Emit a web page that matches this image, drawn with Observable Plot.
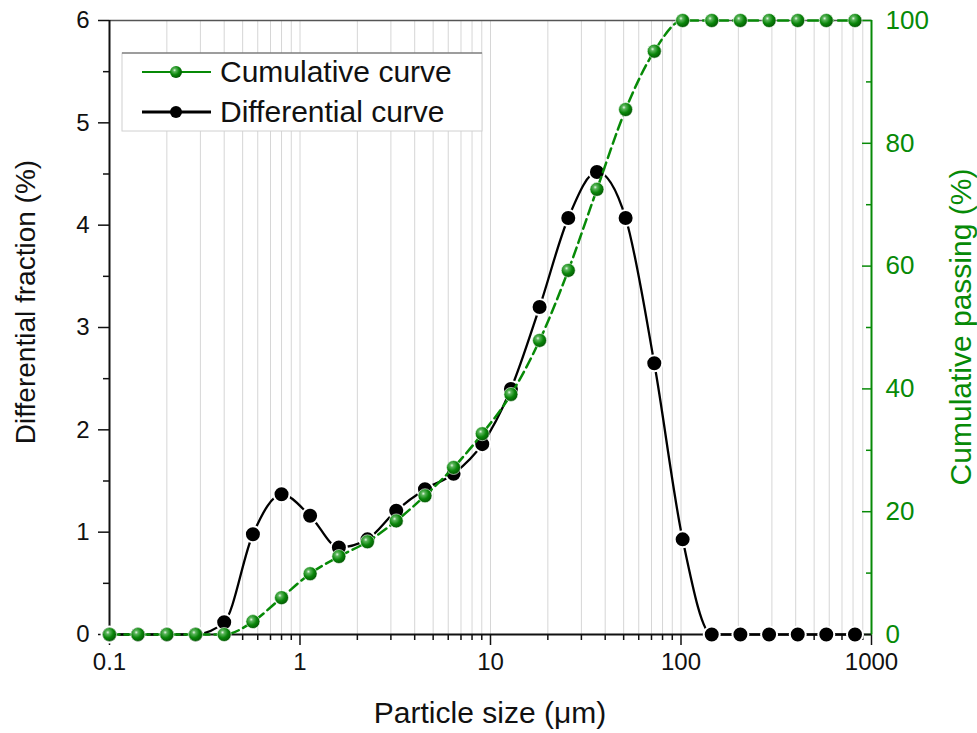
<!DOCTYPE html>
<html><head><meta charset="utf-8">
<script src="https://cdn.jsdelivr.net/npm/d3@7"></script>
<script src="https://cdn.jsdelivr.net/npm/@observablehq/plot@0.6"></script>
<style>
body{margin:0;background:#fff}
#chart{position:relative;width:977px;height:733px}
</style>
</head><body><div id="chart"></div>
<script>
// Particle sizes (µm)
const sizes = [0.1,0.141,0.2,0.283,0.4,0.566,0.8,1.13,1.6,2.26,3.2,4.53,6.4,9.05,12.8,18.1,25.6,36.2,51.2,72.4,102,145,205,290,410,579,819];
// Differential fraction (%)
const differential = [0,0,0,0,0.12,0.98,1.37,1.16,0.85,0.93,1.21,1.42,1.57,1.86,2.40,3.20,4.07,4.52,4.07,2.65,0.93,0,0,0,0,0,0];
// Cumulative passing (%)
const cumulative = [0,0,0,0,0,2.1,6.0,9.9,12.7,15.1,18.5,22.6,27.2,32.7,39.1,47.9,59.3,72.5,85.5,95.0,100,100,100,100,100,100,100];

const xMajor = [0.1,1,10,100,1000];
const xMinor = [0.2,0.3,0.4,0.5,0.6,0.7,0.8,0.9,2,3,4,5,6,7,8,9,20,30,40,50,60,70,80,90,200,300,400,500,600,700,800,900];
const yLeftMajor = [0,1,2,3,4,5,6];
const yLeftMinor = [0.5,1.5,2.5,3.5,4.5,5.5];
const yRightMajor = [0,20,40,60,80,100];
const yRightMinor = [10,30,50,70,90];
const seriesNames = ["Cumulative curve","Differential curve"];
const xTitle = "Particle size (μm)";
const yLeftTitle = "Differential fraction (%)";
const yRightTitle = "Cumulative passing (%)";

const GREEN = "#078a07";
const leftMax = 6, rightMax = 100;
const toLeft = p => p * leftMax / rightMax;

const diffData = sizes.map((s,i)=>({x:s,y:differential[i]}));
const cumData = sizes.map((s,i)=>({x:s,y:toLeft(cumulative[i])}));

const chart = Plot.plot({
  width: 977, height: 733,
  marginLeft: 109, marginRight: 106, marginTop: 20, marginBottom: 99,
  style: {fontFamily: "'Liberation Sans', Arial, sans-serif", background: "#fff", overflow: "visible"},
  x: {type: "log", domain: [0.1, 1000]},
  y: {domain: [0, leftMax]},
  marks: [
    Plot.gridX(xMinor.concat(xMajor.slice(1,4)), {stroke: "#d6d6d6", strokeOpacity: 1, strokeWidth: 1}),
    Plot.ruleY([leftMax], {stroke: "#555", strokeWidth: 1.5}),
    // bottom axis
    Plot.axisX({ticks: xMajor, tickSize: 11, tickPadding: 7, fontSize: 24, tickFormat: d => String(d), label: null, strokeWidth: 1.5, color: "#111"}),
    Plot.axisX({ticks: xMinor, tickSize: 6, tickFormat: () => "", label: null, strokeWidth: 1.5, color: "#111"}),
    // left axis
    Plot.axisY({ticks: yLeftMajor, tickSize: 11, tickPadding: 9, fontSize: 24, tickFormat: d => String(d), label: null, strokeWidth: 1.5, color: "#111"}),
    Plot.axisY({ticks: yLeftMinor, tickSize: 6, tickFormat: () => "", label: null, strokeWidth: 1.5, color: "#111"}),
    // right axis (green)
    Plot.axisY({anchor: "right", ticks: yRightMajor.map(toLeft), tickSize: -10, tickPadding: 24, fontSize: 26,
      tickFormat: d => String(Math.round(d * rightMax / leftMax)), label: null, strokeWidth: 1.5, color: GREEN}),
    Plot.axisY({anchor: "right", ticks: yRightMinor.map(toLeft), tickSize: -6, tickFormat: () => "", label: null, strokeWidth: 1.5, color: GREEN}),
    Plot.ruleX([0.1], {stroke: "#111", strokeWidth: 2}),
    Plot.ruleX([1000], {stroke: GREEN, strokeWidth: 2}),
    Plot.ruleY([0], {stroke: "#111", strokeWidth: 2}),
    // differential
    Plot.line(diffData, {x: "x", y: "y", stroke: "#000", strokeWidth: 2.3, curve: "monotone-x"}),
    Plot.dot(diffData, {x: "x", y: "y", r: 8, fill: "#000", stroke: "#fff", strokeWidth: 2}),
    // cumulative
    Plot.line(cumData, {x: "x", y: "y", stroke: GREEN, strokeWidth: 2.5, strokeDasharray: "10,5", curve: "monotone-x"}),
    Plot.dot(cumData, {x: "x", y: "y", r: 7, fill: "url(#gball)", stroke: "#fff", strokeWidth: 0.6})
  ]
});

const svg = d3.select(chart);
const defs = svg.insert("defs", ":first-child");
const g = defs.append("radialGradient").attr("id","gball").attr("cx","0.38").attr("cy","0.35").attr("r","0.65");
g.append("stop").attr("offset","0").attr("stop-color","#e6f6e6");
g.append("stop").attr("offset","0.2").attr("stop-color","#5bb55b");
g.append("stop").attr("offset","0.6").attr("stop-color","#0a860a");
g.append("stop").attr("offset","1").attr("stop-color","#045a04");

const font = "'Liberation Sans', Arial, sans-serif";
// axis titles
svg.append("text").attr("x", 490).attr("y", 723).attr("text-anchor","middle")
  .attr("font-family", font).attr("font-size", 30).attr("fill","#111").text(xTitle);
svg.append("text").attr("transform","translate(35,302) rotate(-90)").attr("text-anchor","middle")
  .attr("font-family", font).attr("font-size", 28).attr("fill","#111").text(yLeftTitle);
svg.append("text").attr("transform","translate(971,327) rotate(-90)").attr("text-anchor","middle")
  .attr("font-family", font).attr("font-size", 30).attr("fill",GREEN).text(yRightTitle);

// legend
const lg = svg.append("g");
lg.append("rect").attr("x",122).attr("y",53).attr("width",360).attr("height",78).attr("fill","#fff").attr("stroke","#d0d0d0");
lg.append("line").attr("x1",122).attr("x2",482).attr("y1",53).attr("y2",53).attr("stroke","#555").attr("stroke-width",1.2);
const entries = [
  {name: seriesNames[0], color: GREEN, fill: "url(#gball)", y: 72, sw: 2},
  {name: seriesNames[1], color: "#000", fill: "#000", y: 112, sw: 3}
];
entries.forEach(e => {
  lg.append("line").attr("x1",142).attr("x2",211).attr("y1",e.y).attr("y2",e.y).attr("stroke",e.color).attr("stroke-width",e.sw);
  lg.append("circle").attr("cx",176).attr("cy",e.y).attr("r",6).attr("fill",e.fill);
  lg.append("text").attr("x",220).attr("y",e.y+10).attr("text-anchor","start").attr("font-family",font).attr("font-size",30).attr("fill","#111").text(e.name);
});

document.getElementById("chart").appendChild(chart);
</script>
</body></html>
